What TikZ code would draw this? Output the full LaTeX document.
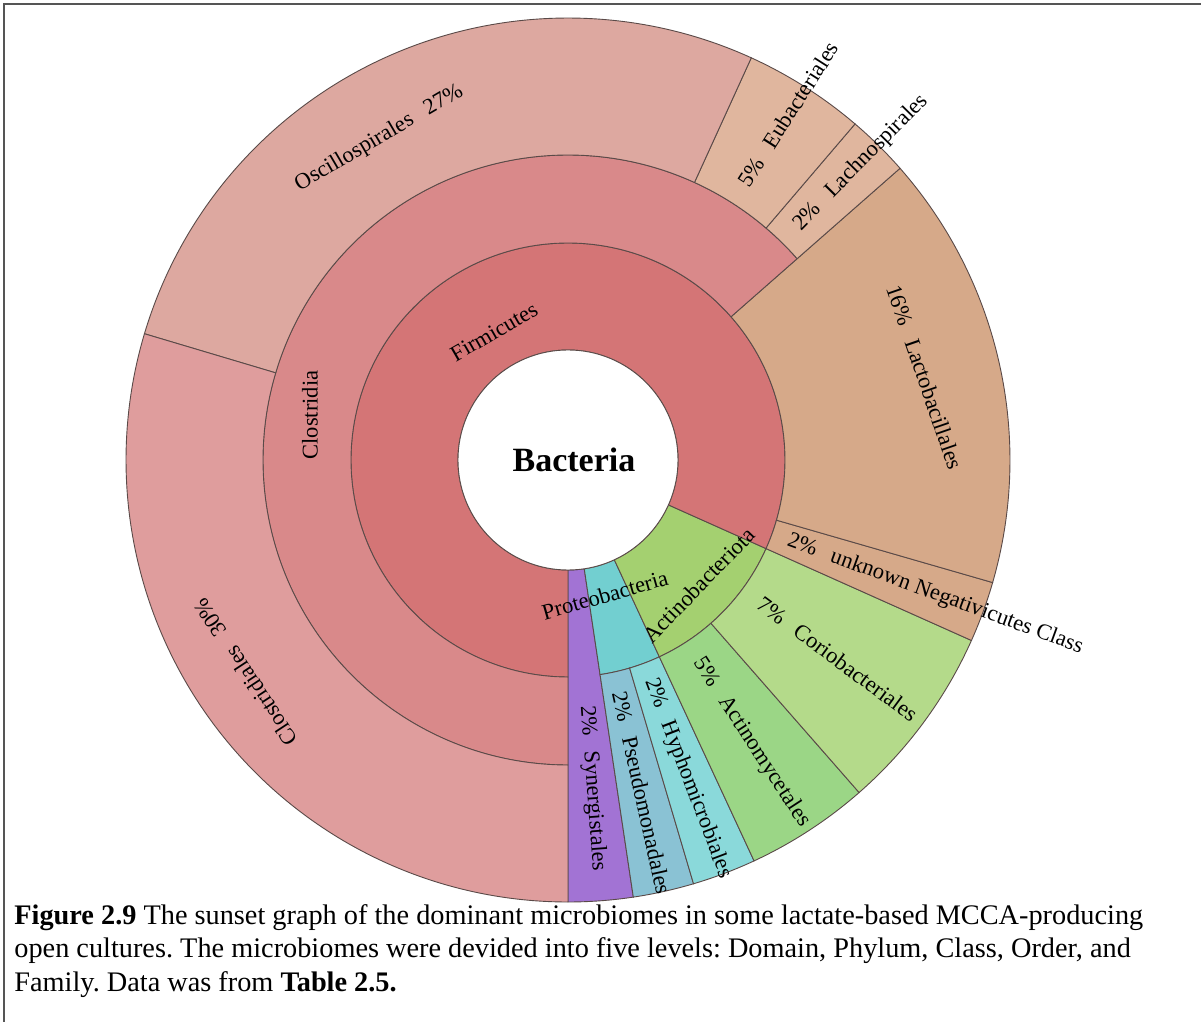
\documentclass[tikz,border=0pt]{standalone}
\usepackage{fontspec}
\setmainfont{Liberation Serif}
\usepackage{tikz}
\definecolor{firmi}{HTML}{D47576}
\definecolor{clostria}{HTML}{D9898A}
\definecolor{oscillo}{HTML}{DDA8A0}
\definecolor{clostrales}{HTML}{DF9D9D}
\definecolor{eubact}{HTML}{E0B69E}
\definecolor{lacto}{HTML}{D6A989}
\definecolor{actino}{HTML}{A4D070}
\definecolor{corio}{HTML}{B4DA8A}
\definecolor{actinomyc}{HTML}{9BD686}
\definecolor{proteo}{HTML}{72CFD0}
\definecolor{pseudo}{HTML}{8AC2D4}
\definecolor{hypho}{HTML}{8AD9DA}
\definecolor{synerg}{HTML}{A273D4}
\definecolor{edge}{HTML}{5A4A48}
\definecolor{framecol}{HTML}{555555}
\newcommand{\slc}[5]{\filldraw[fill=#1,draw=edge,line width=0.45pt] (#2:#4) arc[start angle=#2,end angle=#3,radius=#4] -- (#3:#5) arc[start angle=#3,end angle=#2,radius=#5] -- cycle;}
\newcommand{\lgap}{\hspace{0.7em}}
\frenchspacing

\begin{document}
\begin{tikzpicture}[x=0.5pt,y=0.5pt,
  lab/.style={font=\fontsize{11.25}{13}\selectfont,inner sep=0pt},
  rad/.style={lab,anchor=west},
  capt/.style={font=\fontsize{14.15}{17}\selectfont,inner sep=0pt,anchor=base west}]
\useasboundingbox (-568,-562) rectangle (633,460);
\draw[framecol,line width=1pt] (-564,-562) -- (-564,456) -- (633,456);

\slc{synerg}{270}{278.5}{110}{442}
\slc{proteo}{278.5}{294.9}{110}{217}
\slc{actino}{294.9}{335.9}{110}{217}
\slc{firmi}{-24.1}{270}{110}{217}
\slc{pseudo}{278.5}{286.5}{217}{442}
\slc{hypho}{286.5}{294.9}{217}{442}
\slc{actinomyc}{294.9}{311.2}{217}{442}
\slc{corio}{311.2}{335.9}{217}{442}
\slc{lacto}{-24.1}{-16.1}{217}{442}
\slc{lacto}{-16.1}{41.3}{217}{442}
\slc{clostria}{41.3}{270}{217}{305}
\slc{eubact}{41.3}{49.5}{305}{442}
\slc{eubact}{49.5}{65.5}{305}{442}
\slc{oscillo}{65.5}{163.4}{305}{442}
\slc{clostrales}{163.4}{270}{305}{442}
\filldraw[fill=white,draw=edge,line width=0.45pt] (0,0) circle[radius=110];

\node[font=\fontsize{17}{20}\selectfont\bfseries] (N0) at (6,0) {Bacteria};
\node[lab,rotate=30] (N1) at (120:148) {Firmicutes};
\node[lab,rotate=16] (N2) at (285.3:140) {Proteobacteria};
\node[lab,rotate=46] (N3) at (316.3:181) {Actinobacteriota};
\node[lab,rotate=90] (N4) at (170.1:262) {Clostridia};
\node[lab,rotate=30.4] (N5) at (120.4:373) {Oscillospirales\lgap 27\%};
\node[lab,rotate=123.3] (N6) at (213.3:386) {Clostridiales\lgap 30\%};
\node[lab,rotate=-71] (N7) at (13.1:366) {16\%\lgap Lactobacillales};
\node[rad,rotate=-85.75] (N8) at (274.25:246) {2\%\lgap Synergistales};
\node[rad,rotate=-77.5] (N9) at (282.5:237) {2\%\lgap Pseudomonadales};
\node[rad,rotate=-69.3] (N10) at (290.7:234) {2\%\lgap Hyphomicrobiales};
\node[rad,rotate=-56.95] (N11) at (303.05:238) {5\%\lgap Actinomycetales};
\node[rad,rotate=-36.45] (N12) at (323.55:238) {7\%\lgap Coriobacteriales};
\node[rad,rotate=-20.1] (N13) at (339.9:234) {2\%\lgap unknown Negativicutes Class};
\node[rad,rotate=45.4] (N14) at (45.4:326) {2\%\lgap Lachnospirales};
\node[rad,rotate=57.5] (N15) at (57.5:326) {5\%\lgap Eubacteriales};

\node[capt] (C1) at (-554,-465) {\textbf{Figure 2.9} The sunset graph of the dominant microbiomes in some lactate-based MCCA-producing};
\node[capt] (C2) at (-554,-498) {open cultures. The microbiomes were devided into five levels: Domain, Phylum, Class, Order, and};
\node[capt] (C3) at (-554,-531) {Family. Data was from \textbf{Table 2.5.}};
\end{tikzpicture}
\end{document}
